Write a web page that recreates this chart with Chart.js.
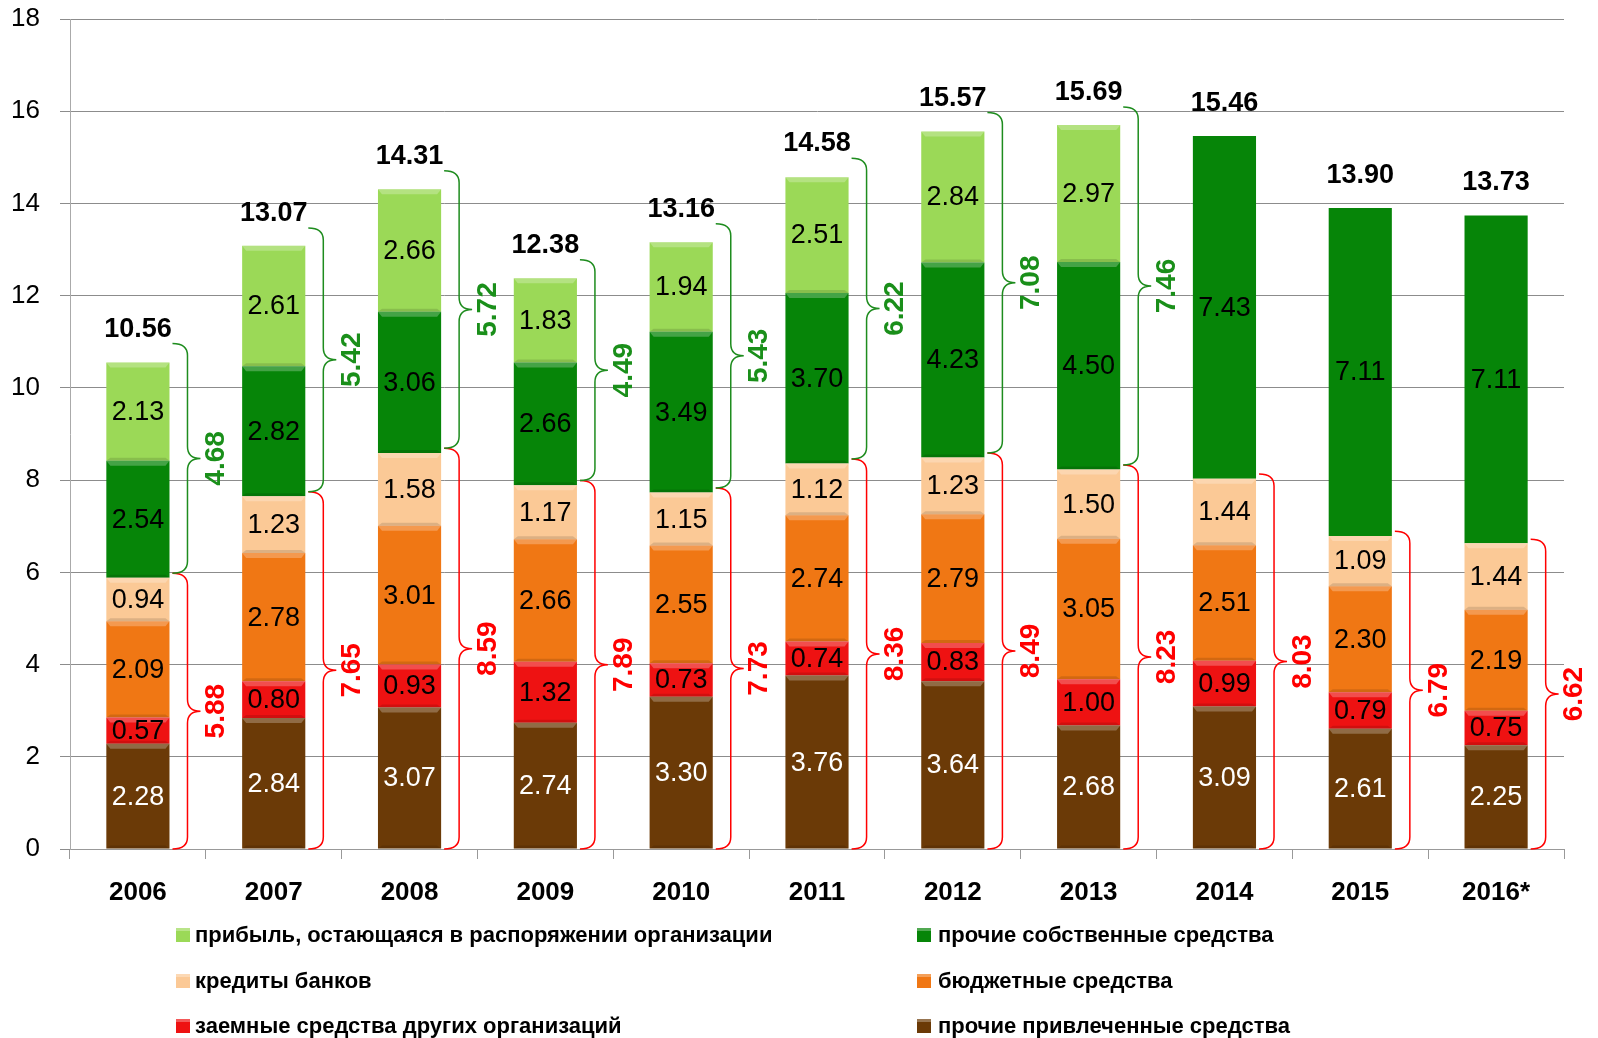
<!DOCTYPE html>
<html>
<head>
<meta charset="utf-8">
<script src="https://cdn.jsdelivr.net/npm/chart.js@4"></script>
<style>
  html, body { margin: 0; padding: 0; background: #fff; }
  canvas { display: block; }
</style>
</head>
<body>
<canvas id="chart" width="1598" height="1038"></canvas>
<script>
// values
var years = ["2006", "2007", "2008", "2009", "2010", "2011", "2012", "2013", "2014", "2015", "2016*"];
var otherAttracted = [2.28, 2.84, 3.07, 2.74, 3.30, 3.76, 3.64, 2.68, 3.09, 2.61, 2.25];
var otherOrgLoans = [0.57, 0.80, 0.93, 1.32, 0.73, 0.74, 0.83, 1.00, 0.99, 0.79, 0.75];
var budgetFunds = [2.09, 2.78, 3.01, 2.66, 2.55, 2.74, 2.79, 3.05, 2.51, 2.30, 2.19];
var bankLoans = [0.94, 1.23, 1.58, 1.17, 1.15, 1.12, 1.23, 1.50, 1.44, 1.09, 1.44];
var otherOwn = [2.54, 2.82, 3.06, 2.66, 3.49, 3.70, 4.23, 4.50, 7.43, 7.11, 7.11];
var retainedProfit = [2.13, 2.61, 2.66, 1.83, 1.94, 2.51, 2.84, 2.97, null, null, null];
var totals = [10.56, 13.07, 14.31, 12.38, 13.16, 14.58, 15.57, 15.69, 15.46, 13.90, 13.73];
var borrowedSums = [5.88, 7.65, 8.59, 7.89, 7.73, 8.36, 8.49, 8.23, 8.03, 6.79, 6.62];
var ownSums = [4.68, 5.42, 5.72, 4.49, 5.43, 6.22, 7.08, 7.46, null, null, null];
var yTicks = [0, 2, 4, 6, 8, 10, 12, 14, 16, 18];

var labelFont = "'Liberation Sans', Arial, sans-serif";

var series = [
  { label: "прочие привлеченные средства", data: otherAttracted, color: "#6B3A07", text: "#fff" },
  { label: "заемные средства других организаций", data: otherOrgLoans, color: "#EE1212", text: "#000" },
  { label: "бюджетные средства", data: budgetFunds, color: "#F07714", text: "#000" },
  { label: "кредиты банков", data: bankLoans, color: "#FBC996", text: "#000" },
  { label: "прочие собственные средства", data: otherOwn, color: "#068508", text: "#000" },
  { label: "прибыль, остающаяся в распоряжении организации", data: retainedProfit, color: "#9BD957", text: "#000" },
];

// legend layout: [series index, column, row]
var legendOrder = [[5, 0, 0], [4, 1, 0], [3, 0, 1], [2, 1, 1], [1, 0, 2], [0, 1, 2]];

function drawBrace(ctx, x0, yTop, yBot, color) {
  var xv = x0 + 15, xt = xv + 13, r = 12;
  var yMid = (yTop + yBot) / 2;
  ctx.beginPath();
  ctx.moveTo(x0, yTop);
  ctx.quadraticCurveTo(xv, yTop, xv, yTop + r);
  ctx.lineTo(xv, yMid - r);
  ctx.quadraticCurveTo(xv, yMid, xt, yMid);
  ctx.quadraticCurveTo(xv, yMid, xv, yMid + r);
  ctx.lineTo(xv, yBot - r);
  ctx.quadraticCurveTo(xv, yBot, x0, yBot);
  ctx.strokeStyle = color;
  ctx.lineWidth = 1.5;
  ctx.stroke();
  return { x: xt, y: yMid };
}

var decorPlugin = {
  id: "decor",
  afterDatasetsDraw: function(chart) {
    var ctx = chart.ctx;
    var yScale = chart.scales.y;
    ctx.save();

    // bevel look on segments
    chart.data.datasets.forEach(function(ds, di) {
      var meta = chart.getDatasetMeta(di);
      meta.data.forEach(function(bar, i) {
        if (ds.data[i] == null) return;
        if (di === 4 && retainedProfit[i] == null) return;
        var left = bar.x - bar.width / 2, top = bar.y, h = bar.base - bar.y;
        ctx.fillStyle = "rgba(255,255,255,0.25)";
        ctx.beginPath();
        ctx.moveTo(left, top); ctx.lineTo(left + bar.width, top);
        ctx.lineTo(left + bar.width - 4, top + 5); ctx.lineTo(left + 4, top + 5);
        ctx.closePath(); ctx.fill();
        ctx.fillStyle = "rgba(0,0,0,0.12)";
        ctx.beginPath();
        ctx.moveTo(left, top + h); ctx.lineTo(left + bar.width, top + h);
        ctx.lineTo(left + bar.width - 4, top + h - 3); ctx.lineTo(left + 4, top + h - 3);
        ctx.closePath(); ctx.fill();
      });
    });

    // values inside segments
    ctx.textAlign = "center";
    ctx.textBaseline = "middle";
    ctx.font = "27px " + labelFont;
    chart.data.datasets.forEach(function(ds, di) {
      var meta = chart.getDatasetMeta(di);
      meta.data.forEach(function(bar, i) {
        var v = ds.data[i];
        if (v == null) return;
        ctx.fillStyle = series[di].text;
        ctx.fillText(v.toFixed(2), bar.x, (bar.y + bar.base) / 2 + 1);
      });
    });

    // totals and braces
    var meta0 = chart.getDatasetMeta(0);
    meta0.data.forEach(function(bar, i) {
      var right = bar.x + bar.width / 2;
      ctx.font = "bold 27px " + labelFont;
      ctx.fillStyle = "#000";
      ctx.textAlign = "center";
      ctx.fillText(totals[i].toFixed(2), bar.x, yScale.getPixelForValue(totals[i]) - 33);

      var tip = drawBrace(ctx, right + 3, yScale.getPixelForValue(borrowedSums[i] + 0.1), yScale.getPixelForValue(0), "#FF0000");
      ctx.save();
      ctx.translate(tip.x + 16, tip.y);
      ctx.rotate(-Math.PI / 2);
      ctx.font = "bold 28px " + labelFont;
      ctx.fillStyle = "#FF0000";
      ctx.fillText(borrowedSums[i].toFixed(2), 0, 0);
      ctx.restore();

      if (ownSums[i] != null) {
        var tip2 = drawBrace(ctx, right + 3, yScale.getPixelForValue(totals[i] + 0.4), yScale.getPixelForValue(borrowedSums[i] + 0.1), "#1E8C1E");
        ctx.save();
        ctx.translate(tip2.x + 16, tip2.y);
        ctx.rotate(-Math.PI / 2);
        ctx.font = "bold 28px " + labelFont;
        ctx.fillStyle = "#1A8F1A";
        ctx.fillText(ownSums[i].toFixed(2), 0, 0);
        ctx.restore();
      }
    });
    ctx.restore();
  },
  afterDraw: function(chart) {
    var ctx = chart.ctx;
    ctx.save();
    var colX = [176, 917], textX = [195, 938], rowY = [935, 981, 1026];
    ctx.font = "bold 22px " + labelFont;
    ctx.textAlign = "left";
    ctx.textBaseline = "middle";
    legendOrder.forEach(function(item) {
      var s = series[item[0]], x = colX[item[1]], y = rowY[item[2]];
      ctx.fillStyle = s.color;
      ctx.fillRect(x, y - 7, 14, 14);
      ctx.fillStyle = "rgba(255,255,255,0.3)";
      ctx.fillRect(x, y - 7, 14, 3);
      ctx.fillStyle = "#000";
      ctx.fillText(s.label, textX[item[1]], y + 1);
    });
    ctx.restore();
  }
};

var datasets = series.map(function(s) {
  return {
    label: s.label,
    data: s.data,
    backgroundColor: s.color,
    borderWidth: 0,
    barPercentage: 0.465,
    categoryPercentage: 1.0,
  };
});

new Chart(document.getElementById("chart").getContext("2d"), {
  type: "bar",
  data: { labels: years, datasets: datasets },
  options: {
    responsive: false,
    animation: false,
    devicePixelRatio: 1,
    layout: { padding: { top: 19, right: 34, left: 0, bottom: 0 } },
    plugins: {
      legend: { display: false },
      tooltip: { enabled: false },
    },
    scales: {
      x: {
        stacked: true,
        grid: { drawOnChartArea: false, drawTicks: true, tickLength: 10, color: "#999", offset: true },
        border: { color: "#999" },
        ticks: { color: "#000", font: { family: labelFont, size: 26, weight: "bold" }, padding: 18 },
        afterFit: function(scale) { scale.height = 189; },
      },
      y: {
        stacked: true,
        min: 0,
        max: 18,
        afterBuildTicks: function(scale) { scale.ticks = yTicks.map(function(v) { return { value: v }; }); },
        grid: { color: "#8c8c8c", tickLength: 10, lineWidth: 1 },
        border: { color: "#aaa" },
        ticks: { color: "#000", font: { family: labelFont, size: 26 }, padding: 20 },
        afterFit: function(scale) {
          scale.width = 70;
          scale.paddingTop = 0;
          scale.paddingBottom = 0;
        },
      }
    }
  },
  plugins: [decorPlugin],
});
</script>
</body>
</html>
